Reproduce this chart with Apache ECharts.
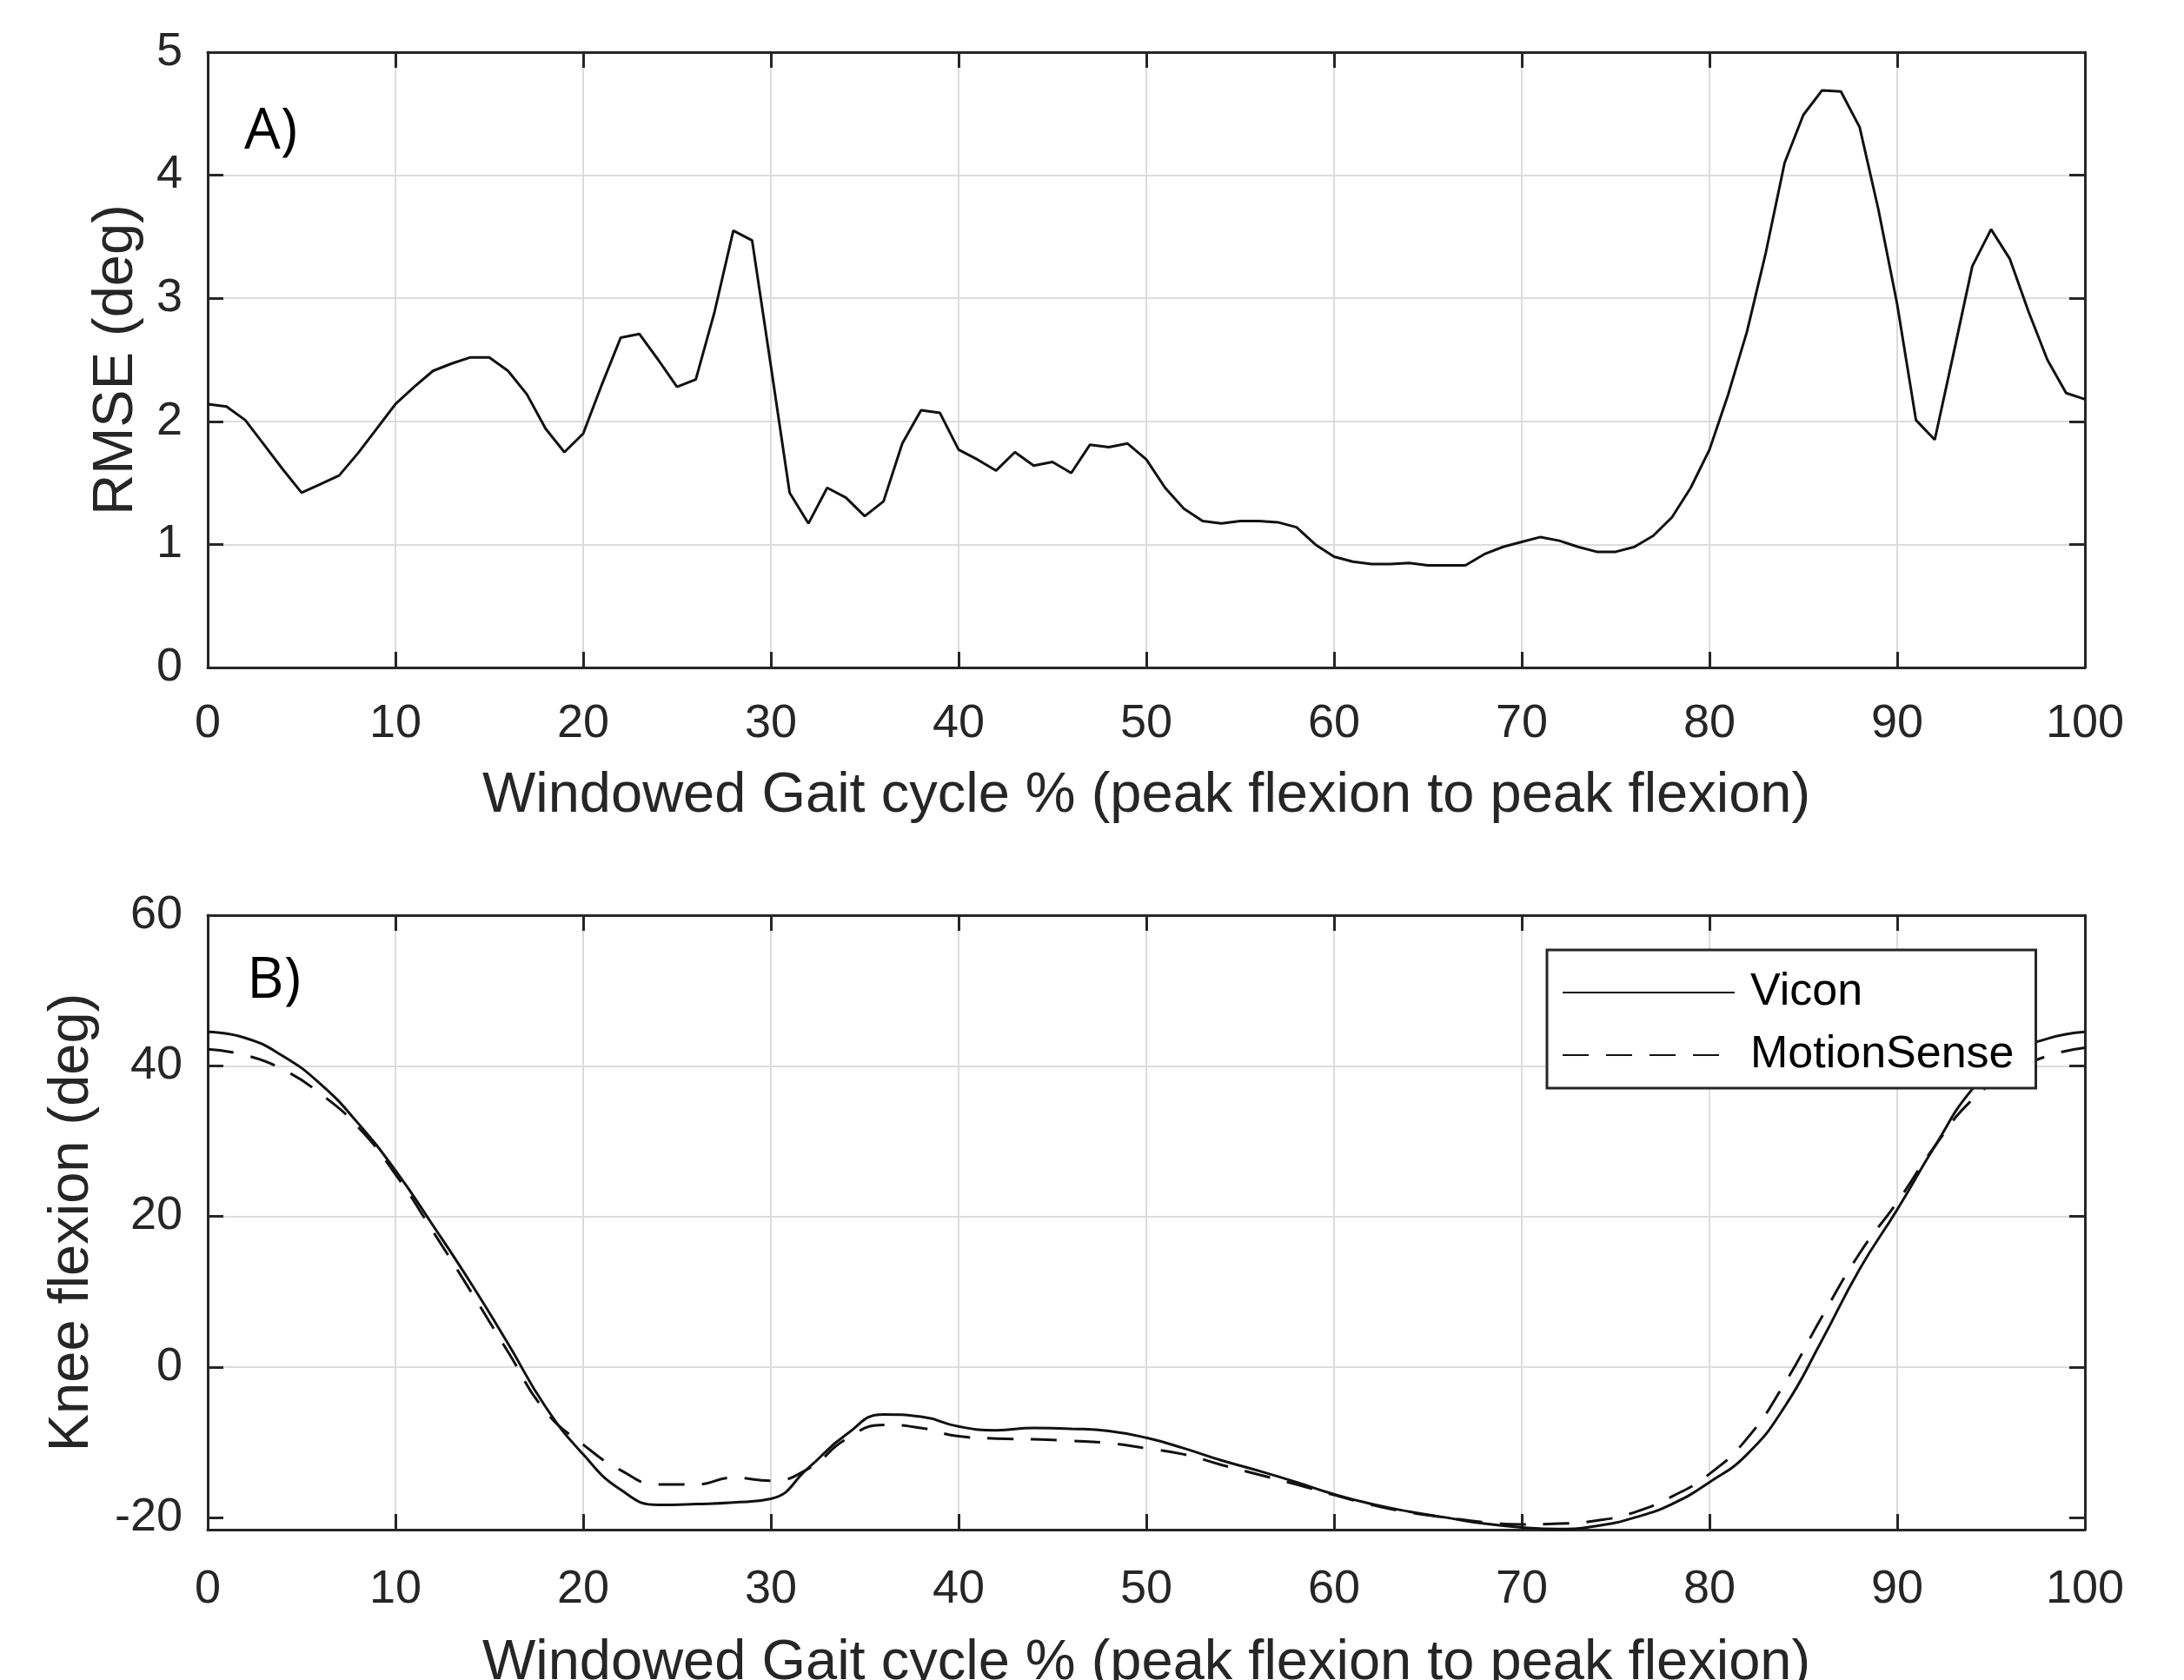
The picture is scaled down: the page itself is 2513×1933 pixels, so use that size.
<!DOCTYPE html>
<html>
<head>
<meta charset="utf-8">
<title>RMSE and knee flexion</title>
<script src="https://cdn.jsdelivr.net/npm/echarts@6/dist/echarts.min.js"></script>
<style>
html, body { margin: 0; padding: 0; background: #fff; }
#chart-container { width: 2513px; height: 1933px; }
</style>
</head>
<body>
<div id="chart-container"></div>
<script>
// ---------- data ----------
// A) RMSE per gait cycle %
var rmseX = [0, 1, 2, 3, 4, 5, 6, 7, 8, 9, 10, 11, 12, 13, 14, 15, 16, 17, 18, 19, 20,
    21, 22, 23, 24, 25, 26, 27, 28, 29, 30, 31, 32, 33, 34, 35, 36, 37, 38, 39, 40,
    41, 42, 43, 44, 45, 46, 47, 48, 49, 50, 51, 52, 53, 54, 55, 56, 57, 58, 59, 60,
    61, 62, 63, 64, 65, 66, 67, 68, 69, 70, 71, 72, 73, 74, 75, 76, 77, 78, 79, 80,
    81, 82, 83, 84, 85, 86, 87, 88, 89, 90, 91, 92, 93, 94, 95, 96, 97, 98, 99, 100];
var rmseY = [2.14, 2.12, 2.01, 1.81, 1.61, 1.42, 1.49, 1.56, 1.74, 1.94, 2.14,
    2.28, 2.41, 2.47, 2.52, 2.52, 2.41, 2.22, 1.94, 1.75, 1.90,
    2.30, 2.68, 2.71, 2.50, 2.28, 2.34, 2.89, 3.55, 3.47, 2.45,
    1.42, 1.17, 1.46, 1.38, 1.23, 1.35, 1.82, 2.09, 2.07, 1.77,
    1.69, 1.60, 1.75, 1.64, 1.67, 1.58, 1.81, 1.79, 1.82, 1.69,
    1.46, 1.29, 1.19, 1.17, 1.19, 1.19, 1.18, 1.14, 1.00, 0.90,
    0.86, 0.84, 0.84, 0.85, 0.83, 0.83, 0.83, 0.92, 0.98, 1.02,
    1.06, 1.03, 0.98, 0.94, 0.94, 0.98, 1.07, 1.22, 1.46, 1.77,
    2.22, 2.73, 3.37, 4.10, 4.49, 4.69, 4.68, 4.39, 3.72, 2.95,
    2.01, 1.85, 2.55, 3.26, 3.56, 3.32, 2.89, 2.50, 2.23, 2.18];

// B) knee flexion, Vicon vs MotionSense
var kneeX = [0, 2, 4, 6, 8, 10, 12, 14, 16, 18, 20, 22, 24, 26, 28, 30, 32, 34, 36, 38, 40,
    42, 44, 46, 48, 50, 52, 54, 56, 58, 60, 62, 64, 66, 68, 70, 72, 74, 76, 78, 80,
    82, 84, 86, 88, 90, 92, 94, 96, 98, 100];
var vicon = [44.5, 43.7, 41.3, 37.6, 32.4, 26.1, 18.8, 11.2, 3.1, -5.3, -11.6,
    -16.3, -18.3, -18.2, -18.0, -17.5, -13.4, -9.0, -6.3, -6.6, -7.9,
    -8.4, -8.1, -8.2, -8.5, -9.4, -10.8, -12.4, -13.8, -15.3, -16.9,
    -18.2, -19.2, -20.0, -20.8, -21.3, -21.5, -21.1, -20.0, -18.2, -15.3,
    -11.6, -5.3, 3.6, 13.0, 20.9, 29.3, 36.9, 41.5, 43.6, 44.5];
var motionSense = [42.2, 41.4, 39.5, 36.3, 31.9, 25.6, 18.0, 10.1, 2.0, -5.9, -10.3,
    -13.7, -15.6, -15.6, -14.7, -15.1, -13.5, -9.6, -7.7, -8.1, -9.2,
    -9.5, -9.6, -9.8, -10.1, -10.8, -11.6, -13.0, -14.3, -15.6, -17.0,
    -18.3, -19.3, -20.0, -20.6, -20.9, -20.8, -20.4, -19.3, -17.2, -14.2,
    -9.5, -2.2, 6.7, 15.1, 21.9, 29.3, 35.5, 39.0, 41.3, 42.4];

// tick labels
var xTicks = [0, 10, 20, 30, 40, 50, 60, 70, 80, 90, 100];
var rmseTicks = [0, 1, 2, 3, 4, 5];
var kneeTicks = [-20, 0, 20, 40, 60];

// ---------- helpers ----------
var FONT = 'Liberation Sans, Arial, sans-serif';
var AXIS_COLOR = '#262626';

function pairs(xs, ys) {
    var out = [];
    for (var i = 0; i < xs.length; i++) {
        out.push([xs[i], ys[i]]);
    }
    return out;
}

// main (labelled) axis
function mainAxis(grid, pos, extra) {
    var a = {
        gridIndex: grid,
        type: 'value',
        position: pos,
        axisLine: {show: true, onZero: false, lineStyle: {color: AXIS_COLOR, width: 3}},
        axisTick: {show: true, inside: true, length: 18, lineStyle: {color: AXIS_COLOR, width: 3}},
        axisLabel: {color: AXIS_COLOR, fontSize: 54, fontFamily: FONT},
        splitLine: {show: true, showMinLine: false, showMaxLine: false, lineStyle: {color: '#dcdcdc', width: 2}},
        nameLocation: 'middle',
        nameTextStyle: {color: AXIS_COLOR, fontSize: 65, fontFamily: FONT}
    };
    for (var k in extra) { a[k] = extra[k]; }
    return a;
}

// mirror axis on top / right: ticks only, like a MATLAB box
function boxAxis(grid, pos, extra) {
    var a = {
        gridIndex: grid,
        type: 'value',
        position: pos,
        axisLine: {show: true, onZero: false, lineStyle: {color: AXIS_COLOR, width: 3}},
        axisTick: {show: true, inside: true, length: 18, lineStyle: {color: AXIS_COLOR, width: 3}},
        axisLabel: {show: false},
        splitLine: {show: false}
    };
    for (var k in extra) { a[k] = extra[k]; }
    return a;
}

var xTitle = 'Windowed Gait cycle % (peak flexion to peak flexion)';

var chart = echarts.init(document.getElementById('chart-container'));

var options = {
    animation: false,
    backgroundColor: '#fff',
    grid: [
        {left: 239, top: 60, width: 2160, height: 708, outerBoundsMode: 'none'},
        {left: 239, top: 1053, width: 2160, height: 707, outerBoundsMode: 'none'}
    ],
    xAxis: [
        mainAxis(0, 'bottom', {min: 0, max: 100, interval: 10, name: xTitle, nameGap: 116,
            axisLabel: {color: AXIS_COLOR, fontSize: 54, fontFamily: FONT, margin: 38}}),
        boxAxis(0, 'top', {min: 0, max: 100, interval: 10}),
        mainAxis(1, 'bottom', {min: 0, max: 100, interval: 10, name: xTitle, nameGap: 122,
            axisLabel: {color: AXIS_COLOR, fontSize: 54, fontFamily: FONT, margin: 42}}),
        boxAxis(1, 'top', {min: 0, max: 100, interval: 10})
    ],
    yAxis: [
        mainAxis(0, 'left', {min: rmseTicks[0], max: rmseTicks[rmseTicks.length - 1], interval: 1,
            name: 'RMSE (deg)', nameGap: 72,
            axisLabel: {color: AXIS_COLOR, fontSize: 54, fontFamily: FONT, margin: 29}}),
        boxAxis(0, 'right', {min: 0, max: 5, interval: 1}),
        mainAxis(1, 'left', {min: -21.6, max: 60,
            name: 'Knee flexion (deg)', nameGap: 123,
            axisTick: {show: true, inside: true, length: 18, customValues: kneeTicks,
                lineStyle: {color: AXIS_COLOR, width: 3}},
            axisLabel: {color: AXIS_COLOR, fontSize: 54, fontFamily: FONT, margin: 29, customValues: kneeTicks}}),
        boxAxis(1, 'right', {min: -21.6, max: 60,
            axisTick: {show: true, inside: true, length: 18, customValues: kneeTicks,
                lineStyle: {color: AXIS_COLOR, width: 3}}})
    ],
    legend: {
        data: ['Vicon', 'MotionSense'],
        orient: 'vertical',
        left: 1780,
        top: 1093,
        padding: [23, 25, 12, 17],
        itemGap: 20,
        itemWidth: 198,
        itemHeight: 20,
        backgroundColor: '#fff',
        borderColor: AXIS_COLOR,
        borderWidth: 3,
        borderRadius: 0,
        itemStyle: {opacity: 0},
        textStyle: {color: '#000', fontSize: 52, fontFamily: FONT, padding: [0, 0, 0, 13]}
    },
    graphic: [
        {type: 'text', left: 281, top: 119, style: {text: 'A)', fontSize: 66, fontFamily: 'Open Sans', fill: '#000'}},
        {type: 'text', left: 284, top: 1096, style: {text: 'B)', fontSize: 66, fontFamily: 'Open Sans', fill: '#000'}}
    ],
    series: [
        {
            name: 'RMSE',
            type: 'line',
            xAxisIndex: 0,
            yAxisIndex: 0,
            symbol: 'none',
            data: pairs(rmseX, rmseY),
            lineStyle: {color: '#111', width: 3}
        },
        {
            name: 'Vicon',
            type: 'line',
            xAxisIndex: 2,
            yAxisIndex: 2,
            symbol: 'none',
            smooth: 0.5,
            data: pairs(kneeX, vicon),
            itemStyle: {color: '#111'},
            lineStyle: {color: '#111', width: 3}
        },
        {
            name: 'MotionSense',
            type: 'line',
            xAxisIndex: 2,
            yAxisIndex: 2,
            symbol: 'none',
            smooth: 0.5,
            data: pairs(kneeX, motionSense),
            itemStyle: {color: '#111'},
            lineStyle: {color: '#111', width: 3, type: [30, 20]}
        }
    ]
};

chart.setOption(options);
</script>
</body>
</html>
